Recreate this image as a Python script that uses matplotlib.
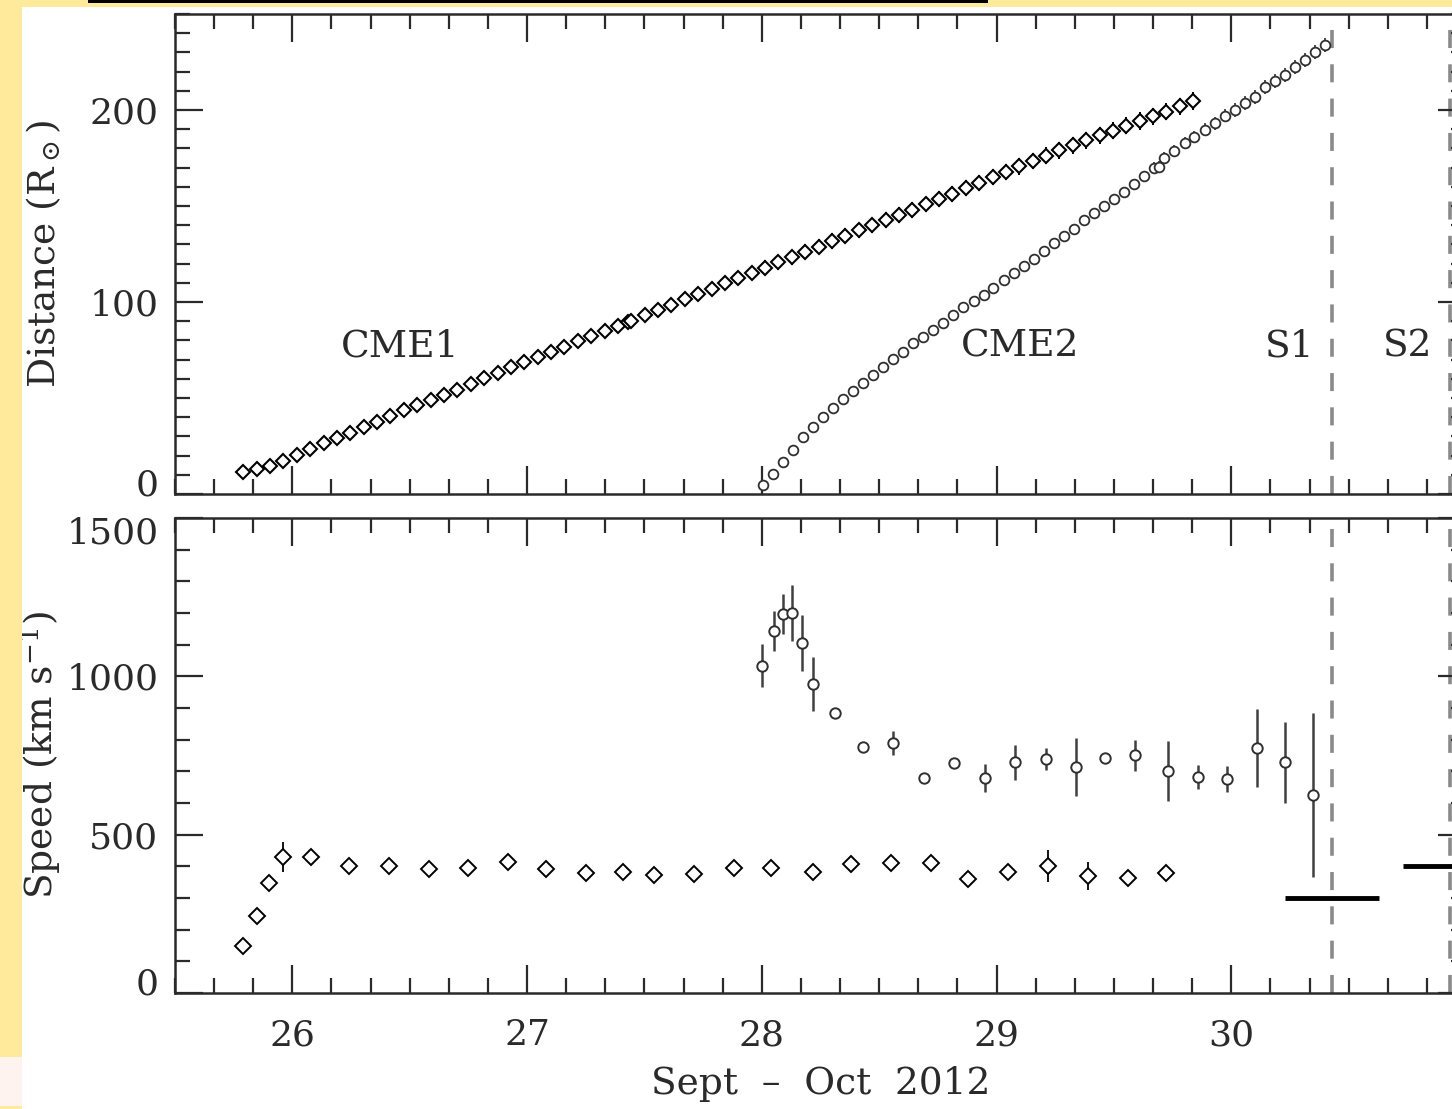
import matplotlib.pyplot as plt
import matplotlib.transforms as mtransforms
from matplotlib.patches import Rectangle
from matplotlib.ticker import MultipleLocator

plt.rcParams['font.family'] = ['DejaVu Serif']
plt.rcParams['mathtext.fontset'] = 'dejavuserif'

# CME1 time-distance track (day of Sept 2012, solar radii); HI-1 -> HI-2 overlap near 27.43
cme1_time = [25.791, 25.848, 25.905, 25.962, 26.019, 26.076, 26.133, 26.190, 26.247, 26.304,
             26.361, 26.418, 26.475, 26.532, 26.589, 26.646, 26.703, 26.760, 26.817, 26.874,
             26.931, 26.988, 27.045, 27.102, 27.159, 27.216, 27.273, 27.330, 27.387, 27.430,
             27.444, 27.501, 27.558, 27.615, 27.672, 27.729, 27.786, 27.843, 27.900, 27.957,
             28.014, 28.071, 28.128, 28.185, 28.242, 28.299, 28.356, 28.413, 28.470, 28.527,
             28.584, 28.641, 28.698, 28.755, 28.812, 28.869, 28.926, 28.983, 29.040, 29.097,
             29.154, 29.211, 29.268, 29.325, 29.382, 29.439, 29.496, 29.553, 29.610, 29.667,
             29.724, 29.781, 29.838]
cme1_dist = [11.5, 13.0, 14.7, 17.2, 20.4, 23.4, 26.6, 29.3, 32.0, 34.9,
             37.6, 40.7, 43.8, 46.5, 49.2, 51.8, 54.4, 57.3, 60.2, 63.0,
             65.9, 68.6, 71.3, 74.0, 76.7, 79.5, 82.2, 84.9, 87.6, 89.6,
             90.3, 93.1, 95.9, 98.6, 101.4, 104.1, 106.9, 109.7, 112.4, 115.2,
             117.9, 120.6, 123.3, 126.1, 128.9, 131.7, 134.5, 137.3, 140.0, 142.7,
             145.4, 148.1, 150.8, 153.6, 156.4, 159.3, 162.1, 165.0, 167.8, 170.7,
             173.5, 176.3, 179.0, 181.6, 184.2, 186.9, 189.3, 191.8, 194.2, 196.7,
             199.2, 201.9, 204.6]
cme1_dist_err = [0.5, 0.5, 0.5, 0.5, 0.5, 0.5, 0.5, 0.5, 0.5, 0.5,
                 0.5, 0.5, 0.5, 0.5, 0.5, 0.5, 0.5, 0.5, 0.5, 0.5,
                 0.5, 0.5, 0.5, 0.5, 0.5, 0.5, 0.5, 0.5, 0.5, 3.5,
                 3.5, 3.5, 3.5, 3.6, 3.6, 3.6, 3.7, 3.7, 3.7, 3.8,
                 3.8, 3.8, 3.9, 3.9, 3.9, 4.0, 4.0, 4.0, 4.0, 4.1,
                 4.1, 4.1, 4.1, 4.2, 4.2, 4.2, 4.2, 4.3, 4.3, 4.3,
                 4.3, 4.4, 4.4, 4.4, 4.4, 4.5, 4.5, 4.5, 4.5, 4.6,
                 4.6, 4.6, 4.6]

# CME2 time-distance track; HI-1 -> HI-2 overlap near 29.69
cme2_time = [28.003, 28.046, 28.089, 28.131, 28.174, 28.217, 28.260, 28.303, 28.345, 28.388,
             28.431, 28.474, 28.517, 28.559, 28.602, 28.645, 28.688, 28.731, 28.773, 28.816,
             28.859, 28.902, 28.945, 28.987, 29.030, 29.073, 29.116, 29.159, 29.201, 29.244,
             29.287, 29.330, 29.373, 29.415, 29.458, 29.501, 29.544, 29.587, 29.629, 29.672,
             29.690, 29.715, 29.758, 29.801, 29.843, 29.886, 29.929, 29.972, 30.015, 30.057,
             30.100, 30.143, 30.186, 30.229, 30.271, 30.314, 30.357, 30.400]
cme2_dist = [4.7, 10.4, 16.8, 22.9, 29.7, 35.1, 40.1, 44.8, 49.5, 53.8,
             58.0, 62.0, 66.1, 70.3, 74.1, 78.6, 81.9, 85.4, 89.1, 93.2,
             97.4, 100.5, 103.6, 107.3, 111.5, 115.3, 118.8, 122.4, 126.7, 130.9,
             134.4, 137.9, 142.7, 146.4, 150.0, 153.6, 157.3, 161.5, 165.6, 169.8,
             170.3, 175.0, 178.6, 182.8, 185.9, 189.6, 193.2, 196.9, 200.0, 203.6,
             206.8, 212.0, 215.1, 218.2, 222.4, 226.0, 230.2, 233.9]
cme2_dist_err = [2.0, 1.5, 1.5, 1.5, 1.5, 1.5, 1.5, 1.5, 1.5, 1.5,
                 1.5, 1.5, 1.5, 1.5, 1.5, 1.5, 1.5, 1.5, 1.5, 1.5,
                 1.5, 1.5, 1.5, 1.5, 1.5, 1.5, 1.5, 1.5, 1.5, 1.5,
                 1.5, 1.5, 1.5, 1.5, 1.5, 1.5, 1.5, 1.5, 1.5, 3.0,
                 3.2, 3.2, 3.3, 3.3, 3.3, 3.4, 3.4, 3.4, 3.5, 3.5,
                 3.5, 3.5, 3.6, 3.6, 3.6, 3.7, 3.7, 3.7]

# speeds (km/s) derived from the tracks
cme1_speed_time = [25.79, 25.85, 25.90, 25.96, 26.08, 26.24, 26.41, 26.58, 26.75, 26.92,
                   27.08, 27.25, 27.41, 27.54, 27.71, 27.88, 28.04, 28.22, 28.38, 28.55,
                   28.72, 28.88, 29.05, 29.22, 29.39, 29.56, 29.72]
cme1_speed = [148, 243, 347, 429, 429, 401, 401, 392, 395, 414,
              392, 379, 382, 373, 376, 395, 395, 382, 407, 410,
              410, 360, 382, 401, 369, 363, 379]
cme1_speed_err = [10, 12, 12, 47, 12, 15, 18, 15, 15, 12,
                  25, 12, 15, 12, 12, 15, 12, 25, 18, 15,
                  15, 15, 18, 50, 44, 15, 20]

cme2_speed_time = [28.00, 28.05, 28.09, 28.13, 28.17, 28.22, 28.31, 28.43, 28.56, 28.69,
                   28.82, 28.95, 29.08, 29.21, 29.34, 29.46, 29.59, 29.73, 29.86, 29.98,
                   30.11, 30.23, 30.35]
cme2_speed = [1033, 1143, 1197, 1200, 1105, 976, 884, 777, 789, 679,
              726, 679, 729, 739, 714, 742, 751, 701, 682, 676,
              774, 729, 625]
cme2_speed_err = [68, 62, 63, 87, 88, 85, 10, 10, 38, 8,
                  12, 43, 55, 36, 92, 10, 49, 96, 38, 40,
                  122, 128, 260]

# in-situ shock arrivals and measured speeds
shock_names = ['S1', 'S2']
shock_time = [30.43, 30.93]
shock_speed = [300, 400]
shock_halfwidth = 0.2

day_ticks = [26, 27, 28, 29, 30]

INK = '#2a2a2a'
DASH = '#8a8a8a'
FS_TICK = 26
FS_LABEL = 27

fig = plt.figure(figsize=(14.52, 11.09), dpi=100)

# page background strips
yellow = '#ffe99b'
fig.patches.append(Rectangle((0, 0), 22 / 1452, 1.0, transform=fig.transFigure,
                             facecolor=yellow, edgecolor='none', zorder=0))
fig.patches.append(Rectangle((0, 3 / 1109), 22 / 1452, 49 / 1109, transform=fig.transFigure,
                             facecolor='#fff3ef', edgecolor='none', zorder=0))
fig.patches.append(Rectangle((0, 1 - 7 / 1109), 1.0, 7 / 1109, transform=fig.transFigure,
                             facecolor=yellow, edgecolor='none', zorder=0))
fig.patches.append(Rectangle((88 / 1452, 1 - 3 / 1109), 900 / 1452, 3 / 1109,
                             transform=fig.transFigure, facecolor='black',
                             edgecolor='none', zorder=1))

left = 175 / 1452
width = (1466 - 175) / 1452
ax1 = fig.add_axes([left, 1 - 494 / 1109, width, 480 / 1109])
ax2 = fig.add_axes([left, 1 - 993 / 1109, width, 475 / 1109])

for ax in (ax1, ax2):
    ax.set_xlim(25.5, 31.0)
    ax.set_xticks(day_ticks)
    ax.xaxis.set_minor_locator(MultipleLocator(1 / 6))
    ax.tick_params(which='both', direction='in', top=True, right=True,
                   color=INK, width=1.6, labelsize=FS_TICK, labelcolor=INK)
    ax.tick_params(which='major', length=20)
    ax.tick_params(which='minor', length=11)
    ax.tick_params(axis='y', pad=12)
    ax.tick_params(axis='x', pad=18)
    for sp in ax.spines.values():
        sp.set_color(INK)
        sp.set_linewidth(1.8)
    for t in shock_time:
        ax.axvline(t, color=DASH, lw=2.6, dashes=(5, 4.5), zorder=1)

# distance panel
ax1.set_ylim(0, 250)
ax1.set_yticks([0, 100, 200])
ax1.yaxis.set_minor_locator(MultipleLocator(10))
ax1.set_xticklabels([])
ax1.errorbar(cme1_time, cme1_dist, yerr=cme1_dist_err, fmt='D', ms=7.6, mfc='white',
             mec='black', mew=1.5, ecolor='black', elinewidth=1.4, capsize=0, zorder=3)
ax1.errorbar(cme2_time, cme2_dist, yerr=cme2_dist_err, fmt='o', ms=7, mfc='white',
             mec='#303030', mew=1.3, ecolor='#303030', elinewidth=1.2, capsize=0, zorder=3)
ax1.set_ylabel(r'Distance (R$_\odot$)', fontsize=FS_LABEL, color=INK)

label_y = 77
ax1.text(26.46, label_y, 'CME1', fontsize=FS_LABEL, color=INK, ha='center', va='center')
ax1.text(29.1, label_y, 'CME2', fontsize=FS_LABEL, color=INK, ha='center', va='center')
for name, t in zip(shock_names, shock_time):
    ax1.text(t - 0.18, label_y, name, fontsize=FS_LABEL, color=INK, ha='center', va='center')

# speed panel
ax2.set_ylim(0, 1500)
ax2.set_yticks([0, 500, 1000, 1500])
ax2.yaxis.set_minor_locator(MultipleLocator(100))
ax2.errorbar(cme1_speed_time, cme1_speed, yerr=cme1_speed_err, fmt='D', ms=8, mfc='white',
             mec='black', mew=1.4, ecolor='black', elinewidth=1.3, capsize=0, zorder=3)
ax2.errorbar(cme2_speed_time, cme2_speed, yerr=cme2_speed_err, fmt='o', ms=7.5, mfc='white',
             mec='#303030', mew=1.4, ecolor='#404040', elinewidth=1.8, capsize=0, zorder=3)
ax2.hlines(shock_speed, [t - shock_halfwidth for t in shock_time],
           [t + shock_halfwidth for t in shock_time], color='black', lw=3.5, zorder=4)
ax2.set_ylabel(r'Speed (km s$^{-1}$)', fontsize=FS_LABEL, color=INK)
ax2.set_xlabel('Sept  \u2013  Oct  2012', fontsize=FS_LABEL, color=INK, labelpad=10)

# both y labels on the same column, clear of the tick numbers
for ax in (ax1, ax2):
    ax.yaxis.set_label_coords(-0.087, 0.5)

# IDL-style nudge of the end labels towards the axis interior
fig.canvas.draw()
up = mtransforms.ScaledTranslation(0, 12 / 100, fig.dpi_scale_trans)
down = mtransforms.ScaledTranslation(0, -12 / 100, fig.dpi_scale_trans)
for ax in (ax1, ax2):
    for lbl in ax.get_yticklabels():
        if lbl.get_text() == '0':
            lbl.set_transform(lbl.get_transform() + up)
        elif lbl.get_text() == '1500':
            lbl.set_transform(lbl.get_transform() + down)

fig.savefig('out.png', dpi=100)
